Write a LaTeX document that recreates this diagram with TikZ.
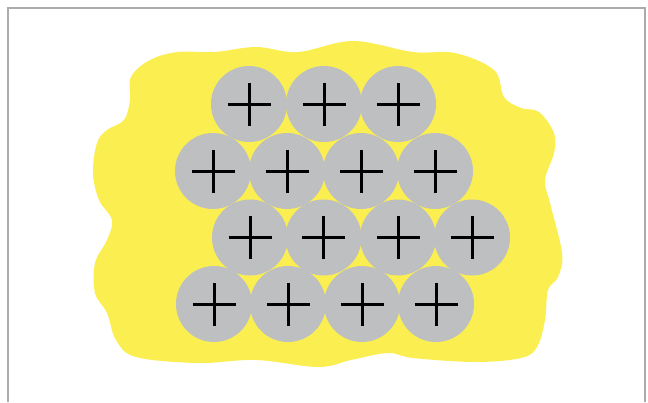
\documentclass[tikz,border=0pt]{standalone}
\usepackage{tikz}
\definecolor{seaYellow}{HTML}{FBEE50}
\definecolor{ionGray}{HTML}{BEBFC1}
\definecolor{frameGray}{HTML}{ABABAB}
\tikzset{
  ionNode/.style={
    circle,
    fill=ionGray,
    minimum size=76pt,
    inner sep=0pt,
    path picture={
      \draw[line width=3pt, black]
        ([xshift=-21.5pt]path picture bounding box.center) --
        ([xshift=21.5pt]path picture bounding box.center)
        ([yshift=-21.5pt]path picture bounding box.center) --
        ([yshift=21.5pt]path picture bounding box.center);
    }
  },
  seaBlob/.style={fill=seaYellow, draw=none},
  frameLine/.style={draw=frameGray, line width=2pt}
}

\begin{document}
\begin{tikzpicture}[x=1pt,y=-1pt]
  \useasboundingbox (0,0) rectangle (648,402);
  \draw[frameLine] (8,402) -- (8,8) -- (645,8) -- (645,402);

  % electron sea
  \fill[seaBlob] plot[smooth cycle, tension=0.6] coordinates {
    (131,77) (150,60) (178,52) (215,52) (256,47) (298,52) (353,41)
    (413,52) (455,53) (494,70) (504,97) (521,108) (539,112) (554,133)
    (554,153) (545,180) (550,203) (562,253) (558,277) (548,290)
    (545,320) (537,347) (521,358) (475,362) (413,358) (388,353)
    (351,360) (318,367) (256,360) (198,363) (136,357) (116,340)
    (107,313) (95,293) (95,263) (107,240) (112,220) (99,200)
    (93,173) (97,143) (107,130) (124,120) (130,100)
  };

  % positive ions
  \foreach \x/\y/\n in {249/104/11, 324/104/12, 398/104/13,
                        213/171/21, 287/171/22, 361/171/23, 435/171/24,
                        250/237.5/31, 323.5/237.5/32, 398/237.5/33, 472/237.5/34,
                        214/304/41, 288/304/42, 362/304/43, 436/304/44} {
    \node[ionNode] (ion\n) at (\x,\y) {};
  }
\end{tikzpicture}
\end{document}
